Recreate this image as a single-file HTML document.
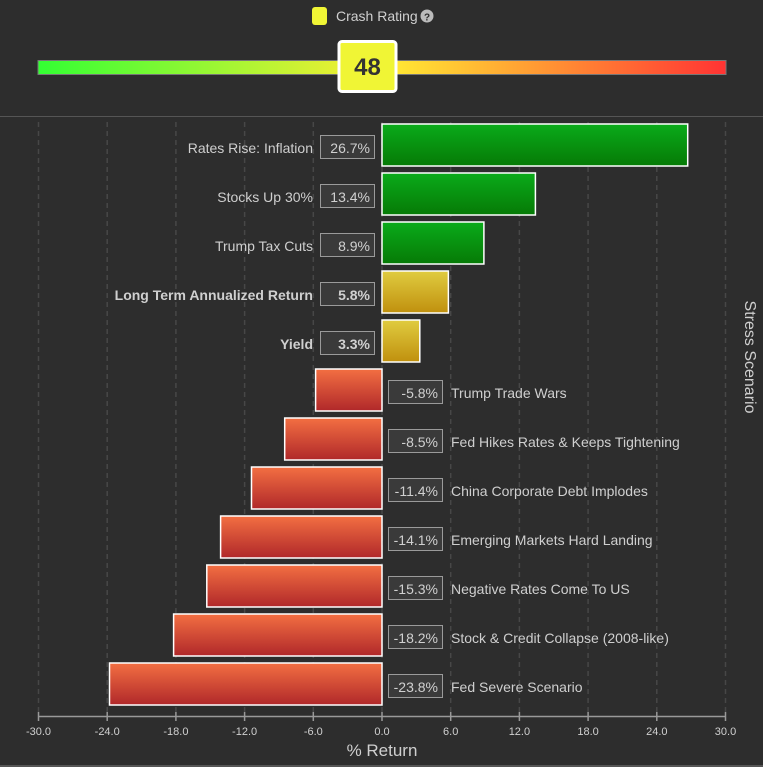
<!DOCTYPE html>
<html><head><style>
html,body{margin:0;padding:0;background:#2d2d2d;}
svg{display:block;font-family:"Liberation Sans",sans-serif;}
</style></head><body>
<svg width="763" height="767" viewBox="0 0 763 767" xmlns="http://www.w3.org/2000/svg">
<defs>
<linearGradient id="rate" x1="0" x2="1" y1="0" y2="0">
<stop offset="0" stop-color="#33ff33"/><stop offset="0.5" stop-color="#ffee33"/><stop offset="1" stop-color="#ff3333"/>
</linearGradient>
<linearGradient id="g" x1="0" y1="0" x2="0" y2="1"><stop offset="0" stop-color="#0aab1a"/><stop offset="1" stop-color="#067a06"/></linearGradient>
<linearGradient id="y" x1="0" y1="0" x2="0" y2="1"><stop offset="0" stop-color="#e0cc40"/><stop offset="1" stop-color="#c0900e"/></linearGradient>
<linearGradient id="r" x1="0" y1="0" x2="0" y2="1"><stop offset="0" stop-color="#f36f42"/><stop offset="1" stop-color="#b0282a"/></linearGradient>
</defs>
<rect width="763" height="767" fill="#2d2d2d"/>
<!-- legend -->
<rect x="312" y="7" width="15" height="18" rx="3" fill="#f0f535"/>
<text x="336" y="21" font-size="14" fill="#cfcfcf">Crash Rating</text>
<circle cx="427" cy="16" r="6.5" fill="#bbb"/>
<text x="427" y="20.5" font-size="10" font-weight="bold" fill="#2d2d2d" text-anchor="middle">?</text>
<rect x="38" y="60.5" width="688" height="14" fill="url(#rate)" stroke="#777" stroke-width="1"/>
<rect x="339" y="41.5" width="57" height="50" rx="3" fill="#f0f535" stroke="#fff" stroke-width="3"/>
<text x="367.5" y="75" font-size="24" font-weight="bold" fill="#333" text-anchor="middle">48</text>
<line x1="0" y1="116.5" x2="763" y2="116.5" stroke="#555"/>
<!-- grid -->
<g stroke="#474747" stroke-dasharray="5,4" stroke-width="1.5">
<line x1="38.5" y1="122" x2="38.5" y2="712"/><line x1="107.2" y1="122" x2="107.2" y2="712"/>
<line x1="175.9" y1="122" x2="175.9" y2="712"/><line x1="244.6" y1="122" x2="244.6" y2="712"/>
<line x1="313.3" y1="122" x2="313.3" y2="712"/><line x1="382" y1="122" x2="382" y2="712"/>
<line x1="450.7" y1="122" x2="450.7" y2="712"/><line x1="519.4" y1="122" x2="519.4" y2="712"/>
<line x1="588.1" y1="122" x2="588.1" y2="712"/><line x1="656.8" y1="122" x2="656.8" y2="712"/>
<line x1="725.5" y1="122" x2="725.5" y2="712"/>
</g>
<!-- bars -->
<g stroke="#fff" stroke-width="1.5">
<rect x="382" y="124" width="305.7" height="42" fill="url(#g)"/>
<rect x="382" y="173" width="153.4" height="42" fill="url(#g)"/>
<rect x="382" y="222" width="101.9" height="42" fill="url(#g)"/>
<rect x="382" y="271" width="66.4" height="42" fill="url(#y)"/>
<rect x="382" y="320" width="37.8" height="42" fill="url(#y)"/>
<rect x="315.6" y="369" width="66.4" height="42" fill="url(#r)"/>
<rect x="284.7" y="418" width="97.3" height="42" fill="url(#r)"/>
<rect x="251.5" y="467" width="130.5" height="42" fill="url(#r)"/>
<rect x="220.6" y="516" width="161.4" height="42" fill="url(#r)"/>
<rect x="206.8" y="565" width="175.2" height="42" fill="url(#r)"/>
<rect x="173.6" y="614" width="208.4" height="42" fill="url(#r)"/>
<rect x="109.5" y="663" width="272.5" height="42" fill="url(#r)"/>
</g>
<!-- value boxes -->
<g fill="#3a3a3a" stroke="#9a9a9a" stroke-width="1">
<rect x="320.5" y="135.5" width="54" height="23"/><rect x="320.5" y="184.5" width="54" height="23"/>
<rect x="320.5" y="233.5" width="54" height="23"/><rect x="320.5" y="282.5" width="54" height="23"/>
<rect x="320.5" y="331.5" width="54" height="23"/>
<rect x="388.5" y="380.5" width="54" height="23"/><rect x="388.5" y="429.5" width="54" height="23"/>
<rect x="388.5" y="478.5" width="54" height="23"/><rect x="388.5" y="527.5" width="54" height="23"/>
<rect x="388.5" y="576.5" width="54" height="23"/><rect x="388.5" y="625.5" width="54" height="23"/>
<rect x="388.5" y="674.5" width="54" height="23"/>
</g>
<g font-size="14" fill="#d0d0d0" text-anchor="end">
<text x="370" y="153">26.7%</text><text x="370" y="202">13.4%</text><text x="370" y="251">8.9%</text>
<text x="370" y="300" font-weight="bold">5.8%</text><text x="370" y="349" font-weight="bold">3.3%</text>
<text x="438" y="398">-5.8%</text><text x="438" y="447">-8.5%</text><text x="438" y="496">-11.4%</text>
<text x="438" y="545">-14.1%</text><text x="438" y="594">-15.3%</text><text x="438" y="643">-18.2%</text>
<text x="438" y="692">-23.8%</text>
</g>
<g font-size="14" fill="#cfcfcf" text-anchor="end">
<text x="313" y="153">Rates Rise: Inflation</text><text x="313" y="202">Stocks Up 30%</text>
<text x="313" y="251">Trump Tax Cuts</text>
<text x="313" y="300" font-weight="bold">Long Term Annualized Return</text>
<text x="313" y="349" font-weight="bold">Yield</text>
</g>
<g font-size="14" fill="#cfcfcf">
<text x="451" y="398">Trump Trade Wars</text><text x="451" y="447">Fed Hikes Rates &amp; Keeps Tightening</text>
<text x="451" y="496">China Corporate Debt Implodes</text><text x="451" y="545">Emerging Markets Hard Landing</text>
<text x="451" y="594">Negative Rates Come To US</text><text x="451" y="643">Stock &amp; Credit Collapse (2008-like)</text>
<text x="451" y="692">Fed Severe Scenario</text>
</g>
<!-- axis -->
<line x1="38.5" y1="716.5" x2="725.5" y2="716.5" stroke="#999" stroke-width="1.5"/>
<g stroke="#999" stroke-width="1.5">
<line x1="38.5" y1="712" x2="38.5" y2="721"/><line x1="107.2" y1="712" x2="107.2" y2="721"/>
<line x1="175.9" y1="712" x2="175.9" y2="721"/><line x1="244.6" y1="712" x2="244.6" y2="721"/>
<line x1="313.3" y1="712" x2="313.3" y2="721"/><line x1="382" y1="712" x2="382" y2="721"/>
<line x1="450.7" y1="712" x2="450.7" y2="721"/><line x1="519.4" y1="712" x2="519.4" y2="721"/>
<line x1="588.1" y1="712" x2="588.1" y2="721"/><line x1="656.8" y1="712" x2="656.8" y2="721"/>
<line x1="725.5" y1="712" x2="725.5" y2="721"/>
</g>
<g font-size="11" fill="#d0d0d0" text-anchor="middle">
<text x="38.5" y="735">-30.0</text><text x="107.2" y="735">-24.0</text><text x="175.9" y="735">-18.0</text>
<text x="244.6" y="735">-12.0</text><text x="313.3" y="735">-6.0</text><text x="382" y="735">0.0</text>
<text x="450.7" y="735">6.0</text><text x="519.4" y="735">12.0</text><text x="588.1" y="735">18.0</text>
<text x="656.8" y="735">24.0</text><text x="725.5" y="735">30.0</text>
</g>
<text x="382" y="756" font-size="17" fill="#cfcfcf" text-anchor="middle">% Return</text>
<text transform="translate(745,357) rotate(90)" font-size="16" fill="#cfcfcf" text-anchor="middle">Stress Scenario</text>
<line x1="0" y1="766" x2="763" y2="766" stroke="#555" stroke-width="2"/>
</svg>
</body></html>
